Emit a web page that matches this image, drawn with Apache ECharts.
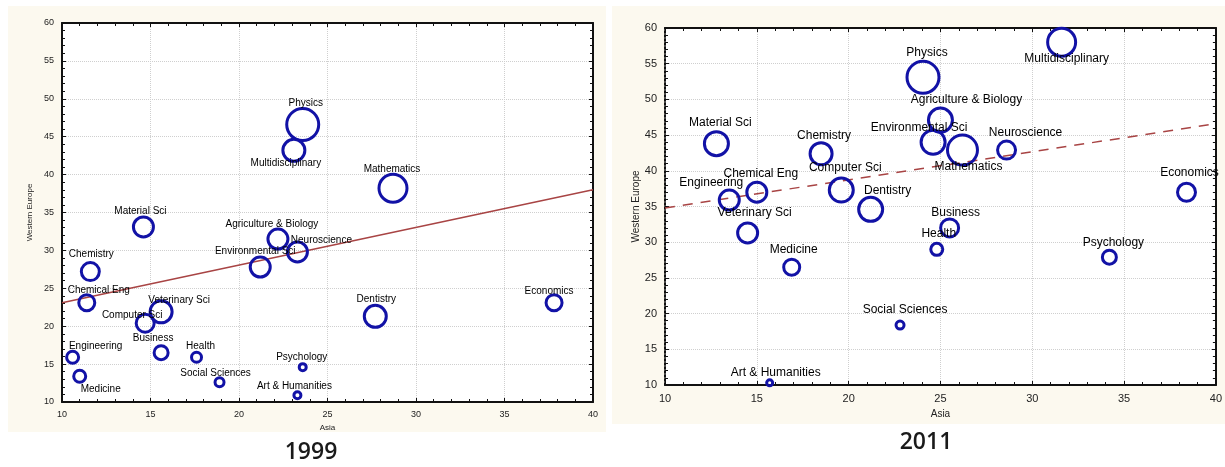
<!DOCTYPE html>
<html>
<head>
<meta charset="utf-8">
<script src="https://cdn.jsdelivr.net/npm/echarts@6/dist/echarts.min.js"></script>
<style>
  html, body { margin: 0; padding: 0; background: #fff; }
  #chart { width: 1225px; height: 467px; }
</style>
</head>
<body>
<div id="chart"></div>
<script>
// 1999 panel
const fields1999 = ['Physics', 'Multidisciplinary', 'Mathematics', 'Agriculture & Biology', 'Neuroscience',
  'Environmental Sci', 'Material Sci', 'Chemistry', 'Chemical Eng', 'Veterinary Sci', 'Computer Sci',
  'Business', 'Health', 'Engineering', 'Medicine', 'Social Sciences', 'Psychology', 'Art & Humanities',
  'Dentistry', 'Economics']
const asia1999 = [23.6, 23.1, 28.7, 22.2, 23.3, 21.2, 14.6, 11.6, 11.4, 15.6, 14.7, 15.6, 17.6, 10.6, 11.0, 18.9, 23.6, 23.3, 27.7, 37.8]
const europe1999 = [46.6, 43.2, 38.2, 31.5, 29.8, 27.8, 33.1, 27.2, 23.1, 21.9, 20.4, 16.5, 15.9, 15.9, 13.4, 12.6, 14.6, 10.9, 21.3, 23.1]
const bubble1999 = [32, 22, 28, 20, 20, 20, 20, 18, 16, 22, 18, 14, 10, 12, 12, 9, 7, 7, 22, 16]
const trend1999 = [[10, 23.1], [40, 38.0]]

// 2011 panel
const fields2011 = ['Multidisciplinary', 'Physics', 'Agriculture & Biology', 'Environmental Sci', 'Neuroscience',
  'Mathematics', 'Economics', 'Material Sci', 'Chemistry', 'Chemical Eng', 'Computer Sci', 'Engineering',
  'Veterinary Sci', 'Dentistry', 'Medicine', 'Business', 'Health', 'Psychology', 'Social Sciences',
  'Art & Humanities']
const asia2011 = [31.6, 24.05, 25.0, 24.6, 28.6, 26.2, 38.4, 12.8, 18.5, 15.0, 19.6, 13.5, 14.5, 21.2, 16.9, 25.5, 24.8, 34.2, 22.8, 15.7]
const europe2011 = [58.0, 53.1, 47.1, 44.0, 42.9, 42.9, 37.0, 43.8, 42.4, 37.0, 37.3, 35.9, 31.3, 34.6, 26.5, 32.0, 29.0, 27.9, 18.4, 10.3]
const bubble2011 = [28, 32, 24, 24, 18, 30, 18, 24, 22, 20, 24, 20, 20, 24, 16, 18, 12, 14, 8, 6]
const trend2011 = [[10, 34.8], [40, 46.6]]

// label placement (offset of label centre from bubble centre)
const offs1999 = {
  'Physics': [3, -21], 'Multidisciplinary': [-8, 13], 'Mathematics': [-1, -19],
  'Agriculture & Biology': [-6, -15], 'Neuroscience': [24, -12], 'Environmental Sci': [-5, -16],
  'Material Sci': [-3, -16], 'Chemistry': [1, -17], 'Chemical Eng': [12, -12],
  'Veterinary Sci': [18, -12], 'Computer Sci': [-13, -8], 'Business': [-8, -14],
  'Health': [4, -11], 'Engineering': [23, -11], 'Medicine': [21, 13],
  'Social Sciences': [-4, -9], 'Psychology': [-1, -10], 'Art & Humanities': [-3, -9],
  'Dentistry': [1, -17], 'Economics': [-5, -11]
}
const offs2011 = {
  'Multidisciplinary': [5, 16], 'Physics': [4, -25], 'Agriculture & Biology': [26, -20],
  'Environmental Sci': [-14, -15], 'Neuroscience': [19, -17], 'Mathematics': [6, 17],
  'Economics': [3, -20], 'Material Sci': [4, -21], 'Chemistry': [3, -18],
  'Chemical Eng': [4, -19], 'Computer Sci': [4, -22], 'Engineering': [-18, -17],
  'Veterinary Sci': [7, -20], 'Dentistry': [17, -19], 'Medicine': [2, -18],
  'Business': [6, -15], 'Health': [2, -16], 'Psychology': [4, -15],
  'Social Sciences': [5, -15], 'Art & Humanities': [6, -10]
}

const bubbleColor = '#1212a6'
const trendColor = '#a84444'
const font = 'Liberation Sans, Arial, sans-serif'

function buildData(names, xs, ys, sizes, offs, fs) {
  return names.map(function (n, i) {
    return {
      name: n,
      value: [xs[i], ys[i], sizes[i]],
      label: {
        show: true,
        position: 'inside',
        offset: offs[n] || [0, -14],
        formatter: n,
        color: '#000',
        fontSize: fs,
        fontFamily: font
      }
    }
  })
}

function xAxisPair(gi, fs) {
  return [{
    gridIndex: gi, type: 'value', min: 10, max: 40, interval: 5,
    name: 'Asia', nameLocation: 'middle', nameGap: gi === 0 ? 22 : 24,
    nameTextStyle: { color: '#222', fontSize: fs - 1, fontFamily: font },
    axisLine: { show: true, onZero: false, lineStyle: { color: '#111', width: 2 } },
    axisTick: { show: true, inside: true, length: 4, lineStyle: { color: '#111' } },
    minorTick: { show: true, splitNumber: 5, length: 3, lineStyle: { color: '#111' } },
    axisLabel: { color: '#222', fontSize: fs, fontFamily: font, margin: 8 },
    splitLine: { show: true, lineStyle: { color: '#cfcfcf', type: 'dotted' } }
  }, {
    gridIndex: gi, type: 'value', min: 10, max: 40, interval: 5, position: 'top',
    axisLine: { show: true, onZero: false, lineStyle: { color: '#111', width: 2 } },
    axisTick: { show: true, inside: true, length: 4, lineStyle: { color: '#111' } },
    minorTick: { show: true, splitNumber: 5, length: 3, lineStyle: { color: '#111' } },
    axisLabel: { show: false }, splitLine: { show: false }
  }]
}

function yAxisPair(gi, fs, leftDotted) {
  return [{
    gridIndex: gi, type: 'value', min: 10, max: 60, interval: 5,
    name: 'Western Europe', nameLocation: 'middle', nameGap: gi === 0 ? 28 : 24,
    nameTextStyle: { color: '#222', fontSize: fs - 1, fontFamily: font },
    axisLine: { show: true, onZero: false, lineStyle: { color: '#111', width: 2, type: leftDotted ? 'dotted' : 'solid' } },
    axisTick: { show: true, inside: true, length: 4, lineStyle: { color: '#111' } },
    minorTick: { show: true, splitNumber: 5, length: 3, lineStyle: { color: '#111' } },
    axisLabel: { color: '#222', fontSize: fs, fontFamily: font, margin: 8 },
    splitLine: { show: true, lineStyle: { color: '#cfcfcf', type: 'dotted' } }
  }, {
    gridIndex: gi, type: 'value', min: 10, max: 60, interval: 5, position: 'right',
    axisLine: { show: true, onZero: false, lineStyle: { color: '#111', width: 2 } },
    axisTick: { show: true, inside: true, length: 4, lineStyle: { color: '#111' } },
    minorTick: { show: true, splitNumber: 5, length: 3, lineStyle: { color: '#111' } },
    axisLabel: { show: false }, splitLine: { show: false }
  }]
}

const chart = echarts.init(document.getElementById('chart'))

chart.setOption({
  backgroundColor: '#fff',
  animation: false,
  graphic: [
    { type: 'rect', z: -10, shape: { x: 8, y: 6, width: 598, height: 426 }, style: { fill: '#fcf9ef' } },
    { type: 'rect', z: -10, shape: { x: 612, y: 6, width: 613, height: 418 }, style: { fill: '#fcf9ef' } }
  ],
  title: [
    { text: '1999', left: 306, top: 436, textAlign: 'center',
      textStyle: { fontSize: 23, fontWeight: 600, color: '#1a1a1a', fontFamily: 'Open Sans, sans-serif' } },
    { text: '2011', left: 921, top: 426, textAlign: 'center',
      textStyle: { fontSize: 23, fontWeight: 600, color: '#1a1a1a', fontFamily: 'Open Sans, sans-serif' } }
  ],
  grid: [
    { left: 62, top: 23, width: 531, height: 379, show: true, backgroundColor: '#fff', borderWidth: 0 },
    { left: 665, top: 28, width: 553, height: 357, show: true, backgroundColor: '#fff', borderWidth: 0 }
  ],
  xAxis: xAxisPair(0, 9).concat(xAxisPair(1, 11)),
  yAxis: yAxisPair(0, 9, false).concat(yAxisPair(1, 11, true)),
  series: [
    {
      type: 'line', xAxisIndex: 0, yAxisIndex: 0, data: trend1999,
      symbol: 'none', lineStyle: { color: trendColor, width: 1.5 }, z: 2
    },
    {
      type: 'scatter', xAxisIndex: 0, yAxisIndex: 0,
      data: buildData(fields1999, asia1999, europe1999, bubble1999, offs1999, 10),
      symbol: 'circle',
      symbolSize: function (v) { return v[2] },
      itemStyle: { color: 'rgba(255,255,255,0)', borderColor: bubbleColor, borderWidth: 3, opacity: 1 },
      z: 3
    },
    {
      type: 'line', xAxisIndex: 2, yAxisIndex: 2, data: trend2011,
      symbol: 'none', lineStyle: { color: trendColor, width: 1.5, type: [10, 8] }, z: 2
    },
    {
      type: 'scatter', xAxisIndex: 2, yAxisIndex: 2,
      data: buildData(fields2011, asia2011, europe2011, bubble2011, offs2011, 12),
      symbol: 'circle',
      symbolSize: function (v) { return v[2] },
      itemStyle: { color: 'rgba(255,255,255,0)', borderColor: bubbleColor, borderWidth: 3, opacity: 1 },
      z: 3
    }
  ]
})
</script>
</body>
</html>
